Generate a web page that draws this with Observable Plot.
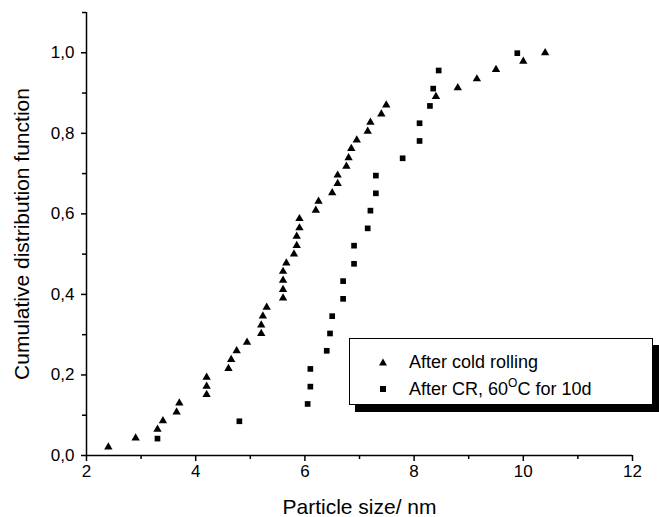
<!DOCTYPE html>
<html>
<head>
<meta charset="utf-8">
<script src="https://cdn.jsdelivr.net/npm/d3@7"></script>
<script src="https://cdn.jsdelivr.net/npm/@observablehq/plot@0.6"></script>
<style>
  html, body { margin: 0; padding: 0; background: #fff; }
  #wrap { position: relative; width: 659px; height: 517px; font-family: "Liberation Sans", Arial, sans-serif; }
  #legend { position: absolute; left: 349px; top: 338px; width: 304px; height: 67px; box-sizing: border-box;
            border: 1px solid #000; background: #fff; box-shadow: 6px 7px 0 #000; font-size: 18px; color: #000; }
  .row { position: absolute; left: 0; height: 20px; line-height: 20px; white-space: nowrap; }
  .row svg { position: absolute; left: 28px; top: 5px; }
  .row span { position: absolute; left: 59px; }
</style>
</head>
<body>
<div id="wrap"></div>
<script>
// Series: "After cold rolling" (triangles)
const crX = [2.4, 2.9, 3.3, 3.4, 3.65, 3.7, 4.2, 4.2, 4.2, 4.6, 4.65, 4.75, 4.94, 5.2, 5.2, 5.23, 5.3,
  5.6, 5.6, 5.6, 5.6, 5.66, 5.8, 5.85, 5.85, 5.9, 5.9, 6.2, 6.25, 6.5, 6.6, 6.6, 6.76, 6.8, 6.85, 6.95,
  7.15, 7.2, 7.4, 7.49, 8.4, 8.8, 9.15, 9.5, 10.0, 10.4];
const crY = [0.021, 0.043, 0.065, 0.086, 0.108, 0.130, 0.151, 0.172, 0.194, 0.216, 0.238, 0.260, 0.281,
  0.303, 0.324, 0.346, 0.368, 0.391, 0.412, 0.435, 0.457, 0.478, 0.500, 0.521, 0.544, 0.565, 0.588,
  0.609, 0.631, 0.652, 0.675, 0.696, 0.718, 0.739, 0.762, 0.783, 0.805, 0.827, 0.848, 0.870, 0.891,
  0.913, 0.935, 0.958, 0.979, 1.0];
// Series: "After CR, 60°C for 10d" (squares)
const anX = [3.3, 4.8, 6.05, 6.1, 6.1, 6.4, 6.46, 6.5, 6.7, 6.7, 6.9, 6.9, 7.15, 7.2, 7.3, 7.3, 7.79,
  8.1, 8.1, 8.29, 8.35, 8.45, 9.89];
const anY = [0.042, 0.085, 0.128, 0.171, 0.215, 0.260, 0.303, 0.346, 0.389, 0.433, 0.476, 0.521, 0.564,
  0.608, 0.651, 0.695, 0.738, 0.781, 0.825, 0.868, 0.911, 0.956, 0.999];

const xMajor = [2, 4, 6, 8, 10, 12];
const xMinor = [3, 5, 7, 9, 11];
const yMajor = [0, 0.2, 0.4, 0.6, 0.8, 1.0];
const yMinor = [0.1, 0.3, 0.5, 0.7, 0.9, 1.1];

const labels = { x: "Particle size/ nm", y: "Cumulative distribution function",
  s1: "After cold rolling" };

const cr = crX.map((x, i) => ({ x, y: crY[i] }));
const an = anX.map((x, i) => ({ x, y: anY[i] }));

const fmtY = d => d.toFixed(1).replace(".", ",");

const plot = Plot.plot({
  width: 659,
  height: 517,
  marginLeft: 86,
  marginRight: 27,
  marginTop: 12,
  marginBottom: 62,
  style: { fontFamily: "Liberation Sans, Arial, sans-serif", fontSize: "17px", color: "#000", background: "#fff" },
  x: { domain: [2, 12] },
  y: { domain: [0, 1.1] },
  marks: [
    Plot.axisX(xMinor, { tickSize: 4, tickFormat: () => "", strokeWidth: 1.5, label: null }),
    Plot.axisX(xMajor, { tickSize: 6, tickPadding: 3, strokeWidth: 1.5, fontSize: 17, label: null }),
    Plot.axisY(yMinor, { tickSize: 4, tickFormat: () => "", strokeWidth: 1.5, label: null }),
    Plot.axisY(yMajor, { tickSize: 5, tickPadding: 7, strokeWidth: 1.5, fontSize: 17, tickFormat: fmtY, label: null }),
    Plot.ruleY([0], { strokeWidth: 1.5 }),
    Plot.ruleX([2], { strokeWidth: 1.5 }),
    Plot.text([labels.x], { frameAnchor: "bottom", dy: 52, lineAnchor: "middle", fontSize: 21 }),
    Plot.text([labels.y], { frameAnchor: "left", dx: -64, rotate: -90, textAnchor: "middle", lineAnchor: "middle", fontSize: 21 }),
    Plot.dot(cr, { x: "x", y: "y", symbol: "triangle", r: 3.1, fill: "#000", stroke: "none" }),
    Plot.dot(an, { x: "x", y: "y", symbol: "square", r: 3.2, fill: "#000", stroke: "none" })
  ]
});

const wrap = document.getElementById("wrap");
wrap.appendChild(plot);

const legend = document.createElement("div");
legend.id = "legend";
legend.innerHTML = `
  <div class="row" style="top:13px"><svg width="10" height="10"><path d="M5,1.5 L9,8.5 L1,8.5 Z" fill="#000"/></svg><span>${labels.s1}</span></div>
  <div class="row" style="top:40px"><svg width="10" height="10"><rect x="2" y="2" width="6" height="6" fill="#000"/></svg><span>After CR, 60<sup style="font-size:12px;vertical-align:8px;line-height:0">O</sup>C for 10d</span></div>`;
wrap.appendChild(legend);
</script>
</body>
</html>
